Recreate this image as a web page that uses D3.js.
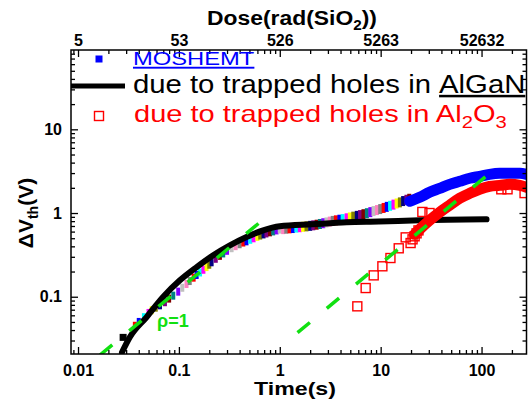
<!DOCTYPE html>
<html><head><meta charset="utf-8">
<script src="https://cdn.jsdelivr.net/npm/d3@7"></script>
<style>
body{margin:0;background:#fff}
svg{display:block}
text{font-family:"Liberation Sans",Arial,Helvetica,sans-serif}
</style>
</head><body>
<svg id="chart" width="528" height="400"></svg>
<script>
// ---------------- data ----------------
const xTickValues = [0.01, 0.1, 1, 10, 100];
const xTickLabels = ["0.01", "0.1", "1", "10", "100"];
const doseTickLabels = ["5", "53", "526", "5263", "52632"];
const yTickValues = [0.1, 1, 10];
const yTickLabels = ["0.1", "1", "10"];

// fitted curve: due to trapped holes in AlGaN (black thick line)
const alganT = [0.0273, 0.0327, 0.0479, 0.070, 0.1023, 0.150, 0.219, 0.320, 0.468, 0.684, 1.0, 2.1, 4.6, 9.6, 24.4, 112];
const alganV = [0.0217, 0.033, 0.0572, 0.100, 0.157, 0.226, 0.313, 0.411, 0.517, 0.621, 0.694, 0.733, 0.774, 0.79, 0.818, 0.84];

// MOSHEMT measured points (multi-run, multicolour) at short times
const mixT = [0.0366, 0.040, 0.045, 0.050, 0.0537, 0.059, 0.0649, 0.0727, 0.080, 0.0879, 0.0985, 0.108, 0.119, 0.128, 0.14, 0.15, 0.162, 0.175, 0.188, 0.2,
              0.211, 0.232, 0.255, 0.275, 0.3, 0.333, 0.365, 0.4, 0.435, 0.468, 0.51, 0.55, 0.6, 0.64, 0.69, 0.738, 0.8, 0.86, 0.93,
              1.0, 1.08, 1.16, 1.25, 1.35, 1.46, 1.58, 1.7, 1.84, 2.0, 2.15, 2.32, 2.5, 2.7, 2.9, 3.13, 3.35, 3.6, 3.9, 4.2, 4.6, 4.95,
              5.35, 5.8, 6.25, 6.75, 7.3, 7.9, 8.5, 9.2, 9.9, 10.7, 11.5, 12.4, 13.4, 14.4, 15.5, 16.7, 18, 19.2];
const mixV = [0.045, 0.050, 0.057, 0.064, 0.069, 0.074, 0.079, 0.086, 0.095, 0.103, 0.115, 0.128, 0.142, 0.154, 0.169, 0.182, 0.195, 0.21, 0.226, 0.241,
              0.258, 0.284, 0.308, 0.329, 0.354, 0.38, 0.402, 0.424, 0.444, 0.459, 0.479, 0.499, 0.519, 0.538, 0.555, 0.57, 0.588, 0.603, 0.62,
              0.634, 0.642, 0.65, 0.656, 0.662, 0.67, 0.677, 0.685, 0.693, 0.703, 0.713, 0.725, 0.74, 0.755, 0.772, 0.79, 0.805, 0.818, 0.832, 0.846, 0.865, 0.885,
              0.905, 0.925, 0.945, 0.968, 0.995, 1.025, 1.055, 1.085, 1.115, 1.15, 1.185, 1.22, 1.26, 1.30, 1.34, 1.39, 1.44, 1.48];
const mixColors = ["#ff0000", "#0000ff", "#00ffff", "#ff00ff", "#ffff00", "#808000", "#000080", "#800080", "#800000", "#008080", "#8000ff", "#c0c0c0", "#ff80c0", "#808080"];
const firstPointT = [0.028];
const firstPointV = [0.0327];

// MOSHEMT (blue) at long times
const moshemtT = [19.4, 24.4, 30.5, 38.4, 48.3, 60.7, 76.4, 95.5, 120, 151, 190, 240, 279];
const moshemtV = [1.38, 1.54, 1.77, 1.97, 2.20, 2.39, 2.60, 2.74, 2.90, 2.98, 2.98, 2.98, 2.90];

// due to trapped holes in Al2O3 (red)
const al2o3BandT = [21.7, 24.4, 30.5, 38.4, 48.3, 60.7, 76.4, 95.5, 120, 151, 190, 240, 279];
const al2o3BandV = [0.556, 0.64, 0.818, 1.02, 1.24, 1.50, 1.72, 1.92, 2.08, 2.14, 2.20, 2.14, 2.03];
const al2o3T = [5.87, 7.1, 8.53, 10.4, 12.5, 15.1, 17.7, 19.8, 20.7, 21.7, 22.7, 23.7, 25.9, 30.5, 157, 181, 267];
const al2o3V = [0.0768, 0.127, 0.180, 0.231, 0.290, 0.379, 0.512, 0.438, 0.485, 0.527, 0.572, 0.62, 1.03, 1.0, 1.92, 1.92, 1.73];

// slope-1 guide lines (rho = 1)
const guide1T = [0.0165, 0.75];
const guide1V = [0.0201, 0.915];
const guide2T = [1.5, 125];
const guide2V = [0.0372, 3.10];

// ---------------- chart ----------------
const svg = d3.select("#chart");
const L = 71, R = 526.5, T = 50, B = 354;
const x = d3.scaleLog().domain([0.00852, 279]).range([L, R]);
const y = d3.scaleLog().domain([0.0207, 88.6]).range([B, T]);

const minorX = [];
[0.001, 0.01, 0.1, 1, 10, 100].forEach(d => { for (let k = 2; k <= 9; k++) { const v = d * k; if (v > 0.00852 && v < 279) minorX.push(v); } });
const minorY = [];
[0.01, 0.1, 1, 10].forEach(d => { for (let k = 2; k <= 9; k++) { const v = d * k; if (v > 0.0207 && v < 88.6) minorY.push(v); } });

svg.append("defs").append("clipPath").attr("id", "clip")
  .append("rect").attr("x", L).attr("y", T).attr("width", R - L).attr("height", B - T);
const plot = svg.append("g").attr("clip-path", "url(#clip)");

// multicolour measured points
plot.append("g").selectAll("rect").data(mixT).join("rect")
  .attr("x", (d) => x(d) - 2).attr("y", (d, i) => y(mixV[i]) - (d > 1 ? 5 : 4))
  .attr("width", 4).attr("height", d => d > 1 ? 10 : 8)
  .attr("fill", (d, i) => mixColors[i % mixColors.length]);
plot.append("g").selectAll("rect").data(firstPointT).join("rect")
  .attr("x", d => x(d) - 3.5).attr("y", (d, i) => y(firstPointV[i]) - 3.5)
  .attr("width", 7).attr("height", 7).attr("fill", "#000");

// black fitted curve
const line = d3.line().x(d => x(d[0])).y(d => y(d[1])).curve(d3.curveMonotoneX);
plot.append("path").datum(alganT.map((t, i) => [t, alganV[i]]))
  .attr("d", line).attr("fill", "none").attr("stroke", "#000").attr("stroke-width", 6).attr("stroke-linecap", "round");

// blue MOSHEMT band
plot.append("path").datum(moshemtT.map((t, i) => [t, moshemtV[i]]))
  .attr("d", line).attr("fill", "none").attr("stroke", "#0000ff").attr("stroke-width", 11)
  .attr("stroke-linecap", "round").attr("stroke-linejoin", "round");

// red Al2O3 band
plot.append("path").datum(al2o3BandT.map((t, i) => [t, al2o3BandV[i]]))
  .attr("d", line).attr("fill", "none").attr("stroke", "#ff0000").attr("stroke-width", 11)
  .attr("stroke-linecap", "round").attr("stroke-linejoin", "round");
plot.append("g").selectAll("rect").data(al2o3T).join("rect")
  .attr("x", d => x(d) - 4.5).attr("y", (d, i) => y(al2o3V[i]) - 4.5)
  .attr("width", 9).attr("height", 9).attr("fill", "none").attr("stroke", "#ff0000").attr("stroke-width", 1.4);

// green guide lines
const green = "#11e011";
[[guide1T, guide1V], [guide2T, guide2V]].forEach(([tt, vv]) => {
  plot.append("path").datum(tt.map((t, i) => [t, vv[i]]))
    .attr("d", d3.line().x(d => x(d[0])).y(d => y(d[1])))
    .attr("fill", "none").attr("stroke", green).attr("stroke-width", 3.5).attr("stroke-dasharray", "16,22");
});
svg.append("text").attr("x", 157).attr("y", 327).attr("fill", green)
  .attr("font-size", 18).attr("font-weight", "bold").text("ρ=1");

// ---------------- axes ----------------
function styleAxis(g) {
  g.select(".domain").remove();
  g.selectAll("line").attr("stroke", "#000").attr("stroke-width", 1.3);
  g.selectAll("text").attr("font-size", 16).attr("font-weight", "bold").attr("fill", "#000")
    .attr("font-family", '"Liberation Sans",Arial,sans-serif');
}
svg.append("g").attr("transform", `translate(0,${B})`)
  .call(d3.axisBottom(x).tickValues(xTickValues).tickFormat((d, i) => xTickLabels[i]).tickSizeInner(-7).tickSizeOuter(0).tickPadding(11)).call(styleAxis);
svg.append("g").attr("transform", `translate(0,${B})`)
  .call(d3.axisBottom(x).tickValues(minorX).tickFormat("").tickSizeInner(-4).tickSizeOuter(0)).call(styleAxis);
svg.append("g").attr("transform", `translate(0,${T})`)
  .call(d3.axisTop(x).tickValues(xTickValues).tickFormat((d, i) => doseTickLabels[i]).tickSizeInner(-7).tickSizeOuter(0).tickPadding(4)).call(styleAxis);
svg.append("g").attr("transform", `translate(0,${T})`)
  .call(d3.axisTop(x).tickValues(minorX).tickFormat("").tickSizeInner(-4).tickSizeOuter(0)).call(styleAxis);
svg.append("g").attr("transform", `translate(${L},0)`)
  .call(d3.axisLeft(y).tickValues(yTickValues).tickFormat((d, i) => yTickLabels[i]).tickSizeInner(-7).tickSizeOuter(0).tickPadding(9)).call(styleAxis);
svg.append("g").attr("transform", `translate(${L},0)`)
  .call(d3.axisLeft(y).tickValues(minorY).tickFormat("").tickSizeInner(-4).tickSizeOuter(0)).call(styleAxis);
svg.append("g").attr("transform", `translate(${R},0)`)
  .call(d3.axisRight(y).tickValues(yTickValues).tickFormat("").tickSizeInner(-7).tickSizeOuter(0)).call(styleAxis);
svg.append("g").attr("transform", `translate(${R},0)`)
  .call(d3.axisRight(y).tickValues(minorY).tickFormat("").tickSizeInner(-4).tickSizeOuter(0)).call(styleAxis);
svg.append("rect").attr("x", L).attr("y", T).attr("width", R - L).attr("height", B - T)
  .attr("fill", "none").attr("stroke", "#000").attr("stroke-width", 1.5);

// fit text horizontally to a target width, scaling about anchor x
function fitWidth(sel, w, ax) {
  const b = sel.node().getBBox();
  const s = w / b.width;
  sel.attr("transform", `translate(${ax},0) scale(${s},1) translate(${-ax},0)`);
}

// titles
const topTitle = svg.append("text").attr("x", 292).attr("y", 25).attr("text-anchor", "middle")
  .attr("font-size", 21).attr("font-weight", "bold");
topTitle.append("tspan").text("Dose(rad(SiO");
topTitle.append("tspan").attr("font-size", 14).attr("dy", 5).text("2");
topTitle.append("tspan").attr("dy", -5).text("))");
fitWidth(topTitle, 170, 292);

const xTitle = svg.append("text").attr("x", 295).attr("y", 395).attr("text-anchor", "middle")
  .attr("font-size", 18).attr("font-weight", "bold").text("Time(s)");
fitWidth(xTitle, 82, 295);

const yTitleG = svg.append("g").attr("transform", "translate(33,213) rotate(-90)");
const yTitle = yTitleG.append("text").attr("x", 0).attr("y", 0).attr("text-anchor", "middle")
  .attr("font-size", 21).attr("font-weight", "bold");
yTitle.append("tspan").text("ΔV");
yTitle.append("tspan").attr("font-size", 14).attr("dy", 5).text("th");
yTitle.append("tspan").attr("dy", -5).text("(V)");

// legend
svg.append("rect").attr("x", 95.5).attr("y", 55.5).attr("width", 7).attr("height", 7).attr("fill", "#0000ff");
const lg1 = svg.append("text").attr("x", 133).attr("y", 65).attr("font-size", 19).attr("fill", "#0000ff")
  .attr("text-decoration", "underline").text("MOSHEMT");
fitWidth(lg1, 122, 133);

svg.append("line").attr("x1", L).attr("x2", 125).attr("y1", 86).attr("y2", 86).attr("stroke", "#000").attr("stroke-width", 5);
const lg2 = svg.append("text").attr("x", 133).attr("y", 93).attr("font-size", 25).attr("fill", "#000");
lg2.append("tspan").text("due to trapped holes in ");
lg2.append("tspan").attr("text-decoration", "underline").text("AlGaN");
fitWidth(lg2, 391, 133);

svg.append("rect").attr("x", 94.5).attr("y", 111.5).attr("width", 9).attr("height", 9)
  .attr("fill", "none").attr("stroke", "#ff0000").attr("stroke-width", 1.4);
const lg3 = svg.append("text").attr("x", 134).attr("y", 122).attr("font-size", 23).attr("fill", "#ff0000");
lg3.append("tspan").text("due to trapped holes in Al");
lg3.append("tspan").attr("font-size", 16).attr("dy", 6).text("2");
lg3.append("tspan").attr("dy", -6).text("O");
lg3.append("tspan").attr("font-size", 16).attr("dy", 6).text("3");
fitWidth(lg3, 373, 134);
</script>
</body></html>
